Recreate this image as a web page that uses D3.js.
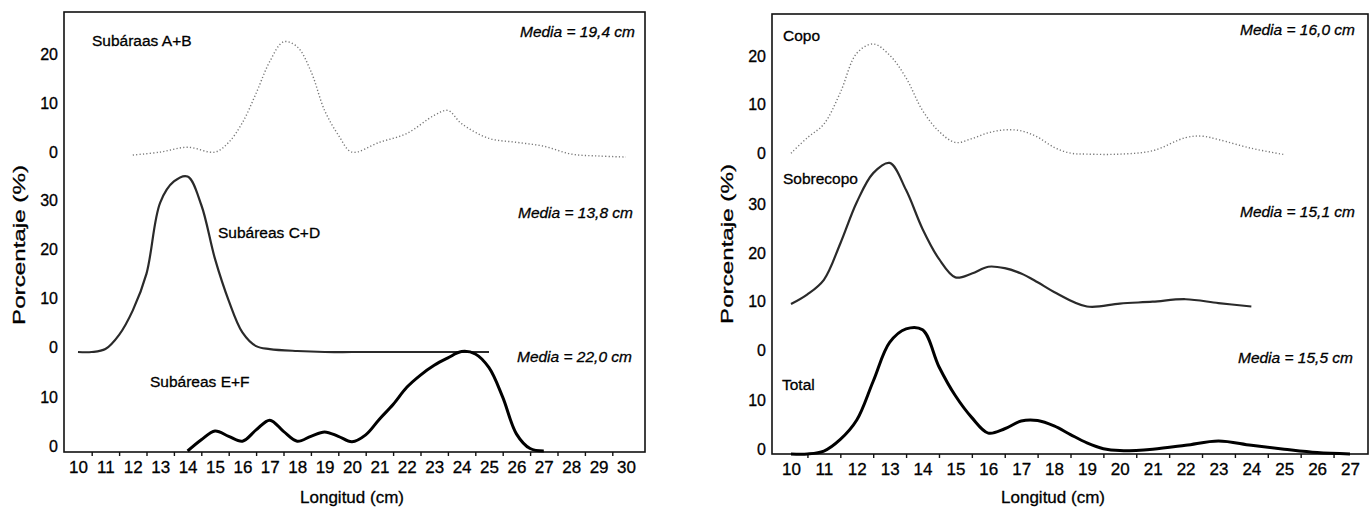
<!DOCTYPE html>
<html>
<head>
<meta charset="utf-8">
<script src="https://cdn.jsdelivr.net/npm/d3@7"></script>
<style>
  body { margin: 0; background: #fff; }
  svg { display: block; font-family: "Liberation Sans", Arial, sans-serif; }
  text { fill: #000; stroke: #000; stroke-width: 0.3; }
  .frame { fill: none; stroke: #111; stroke-width: 1.6; }
  .axis text { font-size: 16px; font-family: "Liberation Sans", Arial, sans-serif; }
  .axis.xlab text { font-size: 17px; }
  .axis line { stroke: #111; stroke-width: 1.4; }
  .lbl { font-size: 15.5px; }
  .media { font-size: 15.5px; font-style: italic; text-anchor: end; }
  .title { font-size: 17px; text-anchor: middle; }
</style>
</head>
<body>
<svg width="1371" height="507"></svg>
<script>
// ---- left panel: por subáreas ----
const abLen = [12, 13, 14, 15, 15.5, 16, 16.5, 17, 17.5, 18, 18.5, 19, 19.5, 20, 21, 22, 23, 23.5, 24, 25, 26, 27, 28, 29, 30];
const abPct = [0.4, 1.0, 2.0, 1.0, 3.0, 7.0, 13.0, 19.5, 23.5, 22.5, 17.5, 9.5, 4.5, 1.0, 3.0, 4.8, 8.5, 9.5, 6.8, 3.8, 3.0, 2.2, 0.6, 0.2, 0];

const cdLen = [10, 10.5, 11, 11.5, 12, 12.5, 13, 13.5, 14, 14.5, 15, 15.5, 16, 16.5, 17, 18, 19, 20, 21, 22, 23, 24, 25];
const cdPct = [0, 0, 0.6, 3.5, 8.5, 16, 30.5, 34.8, 35.8, 30, 19, 10.5, 4, 1.2, 0.6, 0.2, 0, 0, 0, 0, 0, 0, 0];

const efLen = [14, 14.5, 15, 15.5, 16, 16.5, 17, 17.5, 18, 18.5, 19, 19.5, 20, 20.5, 21, 21.5, 22, 22.5, 23, 23.5, 24, 24.5, 25, 25.5, 26, 26.5, 27];
const efPct = [0, 2.3, 4.1, 3.0, 2.0, 4.3, 6.3, 4.0, 2.0, 3.0, 3.9, 3.0, 1.9, 3.3, 6.5, 9.5, 13, 15.5, 17.5, 19, 20.3, 19.8, 17, 11, 3.5, 0.5, 0];

// ---- right panel: por estrato de red ----
const copoLen = [10, 10.5, 11, 11.5, 12, 12.5, 13, 13.5, 14, 14.5, 15, 15.5, 16, 16.5, 17, 17.5, 18, 18.5, 19, 20, 21, 22, 22.5, 23, 24, 25];
const copoPct = [1.0, 4.2, 7.0, 13.5, 21.6, 23.5, 21.2, 16.5, 9.8, 5.5, 3.2, 4.0, 5.2, 5.8, 5.6, 4.3, 2.2, 1.0, 0.8, 0.8, 1.5, 4.2, 4.5, 3.8, 2.0, 0.7];

const sobreLen = [10, 10.5, 11, 11.5, 12, 12.5, 13, 13.5, 14, 14.5, 15, 15.5, 16, 16.5, 17, 17.5, 18, 19, 20, 21, 22, 23, 24];
const sobrePct = [10.5, 12.5, 15.5, 23, 31.5, 37.5, 39.6, 34, 26, 19.8, 16, 16.8, 18.2, 17.9, 16.8, 15, 13, 10, 10.6, 11.0, 11.5, 10.7, 10.0];

const totalLen = [10, 10.5, 11, 11.5, 12, 12.5, 13, 13.5, 14, 14.5, 15, 15.5, 16, 16.5, 17, 17.5, 18, 18.5, 19, 19.5, 20, 21, 22, 23, 24, 25, 26, 27];
const totalPct = [0, 0, 0.6, 3.0, 7.0, 15.0, 23.0, 25.8, 25.6, 18, 12, 7.5, 4.3, 5.2, 6.8, 6.9, 5.8, 4.0, 2.3, 1.1, 0.7, 1.0, 1.8, 2.7, 1.8, 1.0, 0.3, 0];

const leftTicks = d3.range(10, 31);
const rightTicks = d3.range(10, 28);

const styles = {
    dotted: {stroke: "#777", width: 1.4, dash: "1.2 2.2"},
    gray: {stroke: "#2a2a2a", width: 2.2},
    heavy: {stroke: "#000", width: 3}
};

const panels = [
    {
        box: {left: 64, right: 645, top: 12, bottom: 452},
        xRange: [78, 626], ticks: leftTicks, per10: 49,
        title: {x: 352, y: 503}, yTitle: {x: 25, y: 245},
        series: [
            {name: "Subáraas A+B", len: abLen, pct: abPct, zero: 157, yt: [0, 10, 20], style: "dotted",
             label: [92, 46], media: "Media = 19,4 cm", mediaPos: [635, 37]},
            {name: "Subáreas C+D", len: cdLen, pct: cdPct, zero: 352, yt: [0, 10, 20, 30], style: "gray",
             label: [218, 238], media: "Media = 13,8 cm", mediaPos: [633, 218]},
            {name: "Subáreas E+F", len: efLen, pct: efPct, zero: 451, yt: [0, 10], style: "heavy",
             label: [150, 387], media: "Media = 22,0 cm", mediaPos: [632, 362]}
        ]
    },
    {
        box: {left: 772, right: 1368, top: 14, bottom: 454},
        xRange: [791, 1350], ticks: rightTicks, per10: 48.5,
        title: {x: 1053, y: 503}, yTitle: {x: 733, y: 244},
        series: [
            {name: "Copo", len: copoLen, pct: copoPct, zero: 158, yt: [0, 10, 20], style: "dotted",
             label: [783, 41], media: "Media = 16,0 cm", mediaPos: [1355, 35]},
            {name: "Sobrecopo", len: sobreLen, pct: sobrePct, zero: 355, yt: [0, 10, 20, 30], style: "gray",
             label: [783, 184], media: "Media = 15,1 cm", mediaPos: [1355, 217]},
            {name: "Total", len: totalLen, pct: totalPct, zero: 454, yt: [0, 10], style: "heavy",
             label: [782, 390], media: "Media = 15,5 cm", mediaPos: [1353, 363]}
        ]
    }
];

const svg = d3.select("svg");

panels.forEach((p) => {
    const g = svg.append("g");
    const b = p.box;

    const x = d3.scaleLinear()
        .domain([p.ticks[0], p.ticks[p.ticks.length - 1]])
        .range(p.xRange);

    g.append("rect")
        .attr("class", "frame")
        .attr("x", b.left)
        .attr("y", b.top)
        .attr("width", b.right - b.left)
        .attr("height", b.bottom - b.top);

    // x labels centred on each cm, tick marks between them
    g.append("g")
        .attr("class", "axis xlab")
        .attr("transform", `translate(0,${b.bottom})`)
        .call(d3.axisBottom(x).tickValues(p.ticks).tickFormat(d3.format("d")).tickSize(0).tickPadding(9))
        .call((a) => a.select(".domain").remove());

    g.append("g")
        .attr("class", "axis")
        .attr("transform", `translate(0,${b.bottom})`)
        .call(d3.axisBottom(x).tickValues(p.ticks.slice(0, -1).map((d) => d + 0.5)).tickFormat("").tickSize(4))
        .call((a) => a.select(".domain").remove());

    p.series.forEach((s) => {
        const y = d3.scaleLinear()
            .domain([0, 10])
            .range([s.zero, s.zero - p.per10]);

        g.append("g")
            .attr("class", "axis")
            .attr("transform", `translate(${b.left},0)`)
            .call(d3.axisLeft(y).tickValues(s.yt).tickSize(0).tickPadding(6))
            .call((a) => a.select(".domain").remove())
            .selectAll("text")
            .attr("dy", "0");

        const line = d3.line()
            .x((d) => x(d[0]))
            .y((d) => y(d[1]))
            .curve(d3.curveCatmullRom.alpha(0.5));

        const st = styles[s.style];
        g.append("path")
            .datum(d3.zip(s.len, s.pct))
            .attr("fill", "none")
            .attr("stroke", st.stroke)
            .attr("stroke-width", st.width)
            .attr("stroke-dasharray", st.dash || null)
            .attr("stroke-linejoin", "round")
            .attr("d", line);

        g.append("text")
            .attr("class", "lbl")
            .attr("x", s.label[0])
            .attr("y", s.label[1])
            .text(s.name);

        g.append("text")
            .attr("class", "media")
            .attr("x", s.mediaPos[0])
            .attr("y", s.mediaPos[1])
            .text(s.media);
    });

    g.append("text")
        .attr("class", "title")
        .attr("x", p.title.x)
        .attr("y", p.title.y)
        .text("Longitud (cm)");

    g.append("text")
        .attr("class", "title")
        .attr("transform", `translate(${p.yTitle.x},${p.yTitle.y}) rotate(-90)`)
        .attr("textLength", 160)
        .attr("lengthAdjust", "spacingAndGlyphs")
        .text("Porcentaje (%)");
});
</script>
</body>
</html>
